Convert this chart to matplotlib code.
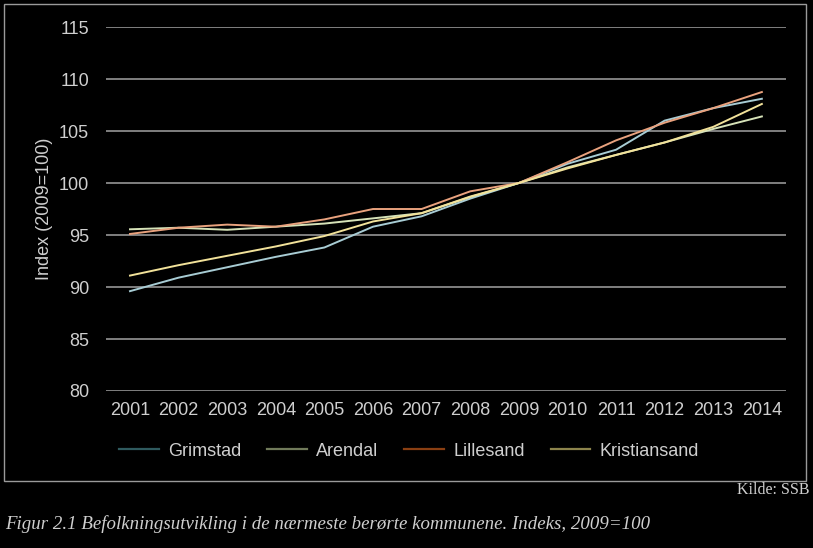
import matplotlib
matplotlib.use("Agg")
import matplotlib.pyplot as plt
from matplotlib.lines import Line2D
from matplotlib.patches import Rectangle

years = ["2001", "2002", "2003", "2004", "2005", "2006", "2007",
         "2008", "2009", "2010", "2011", "2012", "2013", "2014"]
grimstad = [89.6, 90.9, 91.9, 92.9, 93.8, 95.8, 96.8, 98.5, 100.0, 101.85, 103.2, 106.0, 107.2, 108.1]
arendal = [95.55, 95.7, 95.5, 95.8, 96.1, 96.6, 97.1, 98.65, 100.0, 101.5, 102.7, 103.9, 105.2, 106.4]
lillesand = [95.1, 95.7, 96.0, 95.8, 96.5, 97.5, 97.5, 99.2, 100.0, 102.0, 104.1, 105.8, 107.2, 108.75]
kristiansand = [91.1, 92.1, 93.0, 93.9, 94.9, 96.3, 97.1, 98.7, 100.0, 101.4, 102.7, 103.9, 105.4, 107.6]
series_names = ["Grimstad", "Arendal", "Lillesand", "Kristiansand"]
yticks = [80, 85, 90, 95, 100, 105, 110, 115]

line_colors = ["#a8ccd4", "#d6e2b8", "#e9a27e", "#f2e29a"]
legend_colors = ["#2f5a5e", "#707a5a", "#8a3f12", "#8c844c"]
text_color = "#cfcfcf"

plt.rcParams['font.family'] = ['Liberation Sans', 'DejaVu Sans']

fig = plt.figure(figsize=(8.13, 5.48), dpi=100, facecolor="black")
ax = fig.add_axes([0.130, 0.2865, 0.837, 0.6642], facecolor="black")

x = list(range(len(years)))
data = [grimstad, arendal, lillesand, kristiansand]
for vals, c in zip(data, line_colors):
    ax.plot(x, vals, color=c, lw=1.4, zorder=3)

ax.set_ylim(80, 115)
ax.set_xlim(-0.5, len(years) - 0.5)
ax.set_yticks(yticks)
ax.set_xticks(x)
ax.set_xticklabels(years)
ax.tick_params(axis="both", length=0, colors=text_color, labelsize=13)
ax.tick_params(axis="y", pad=12)
ax.tick_params(axis="x", pad=8)
ax.grid(axis="y", color="#8a8a8a", lw=1.3)
ax.set_axisbelow(True)
for s in ax.spines.values():
    s.set_visible(False)
ax.set_ylabel("Index (2009=100)", color=text_color, fontsize=13, labelpad=4)

handles = [Line2D([0], [0], color=c, lw=1.6) for c in legend_colors]
leg = fig.legend(handles, series_names, loc="center", bbox_to_anchor=(0.503, 1 - 451 / 548),
                 ncol=4, frameon=False, fontsize=13, labelcolor=text_color,
                 handlelength=2.2, columnspacing=1.45, handletextpad=0.5)

fig.patches.append(Rectangle((4 / 813, 1 - 481 / 548), 802 / 813, 477 / 548,
                             transform=fig.transFigure, fill=False,
                             edgecolor="#9a9a9a", lw=1.0))

fig.text(0.996, 1 - 490 / 548, "Kilde: SSB", ha="right", va="center",
         family="Liberation Serif", fontsize=11.5, color=text_color)
fig.text(0.006, 1 - 524 / 548,
         "Figur 2.1 Befolkningsutvikling i de nærmeste berørte kommunene. Indeks, 2009=100",
         ha="left", va="center", family="Liberation Serif", style="italic",
         fontsize=13.6, color=text_color)

fig.savefig("out.png", dpi=100, facecolor="black")
